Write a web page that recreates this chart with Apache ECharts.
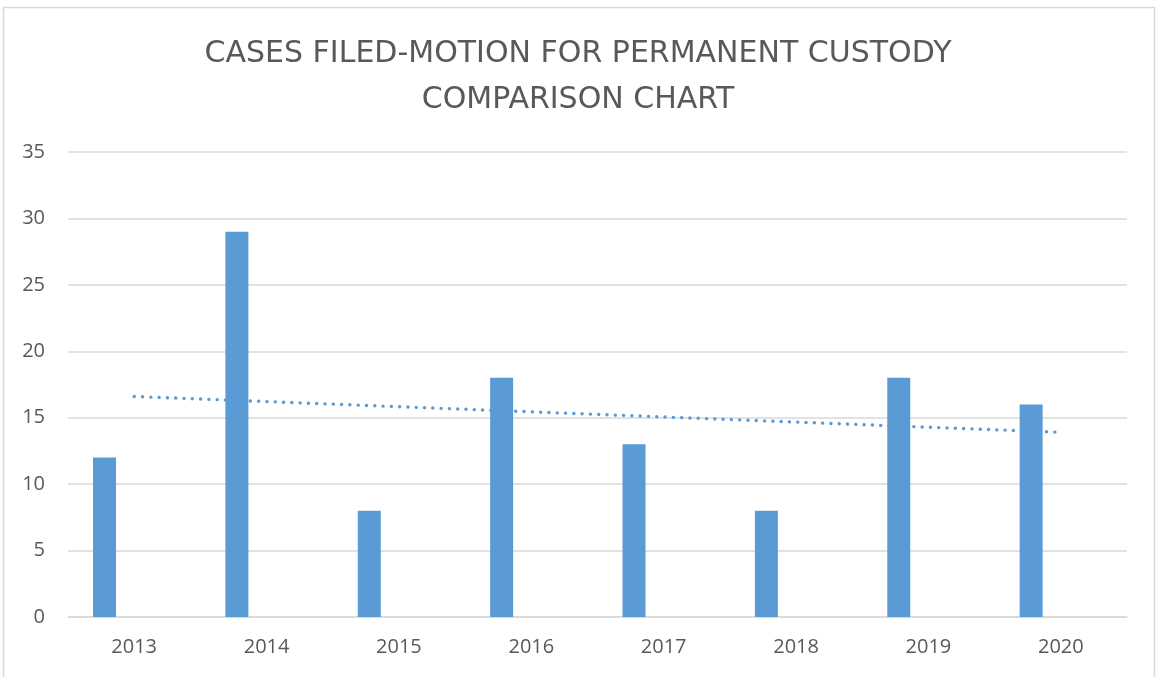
<!DOCTYPE html>
<html>
<head>
<meta charset="utf-8">
<script src="https://cdn.jsdelivr.net/npm/echarts@6/dist/echarts.min.js"></script>
<style>
html,body{margin:0;padding:0;background:#fff;}
#chart{width:1156px;height:677px;}
</style>
</head>
<body>
<div id="chart"></div>
<script>
const titleText = 'CASES FILED-MOTION FOR PERMANENT CUSTODY\nCOMPARISON CHART';
const categories = ['2013','2014','2015','2016','2017','2018','2019','2020'];
const casesFiled = [12, 29, 8, 18, 13, 8, 18, 16];
const emptySeries = [null, null, null, null, null, null, null, null];
// linear trendline endpoints (2013 and 2020)
const trendValues = [16.6, null, null, null, null, null, null, 13.9];
const yTicks = { min: 0, max: 35, interval: 5 };

const chart = echarts.init(document.getElementById('chart'), null, {renderer: 'canvas'});
chart.setOption({
  animation: false,
  backgroundColor: '#ffffff',
  graphic: [{
    type: 'rect', silent: true, z: -10,
    shape: {x: 3.5, y: 7.5, width: 1151, height: 690},
    style: {fill: 'none', stroke: '#d9d9d9', lineWidth: 1.5}
  }],
  title: {
    text: titleText,
    left: 'center',
    top: 26,
    textStyle: {
      fontFamily: 'DejaVu Sans', fontWeight: 'normal', fontSize: 30,
      color: '#595959', lineHeight: 46
    }
  },
  grid: {left: 68, right: 29, top: 152, bottom: 60, containLabel: false},
  xAxis: {
    type: 'category',
    data: categories,
    axisLine: {lineStyle: {color: '#d9d9d9', width: 1.5}},
    axisTick: {show: false},
    axisLabel: {color: '#595959', fontFamily: 'Open Sans', fontSize: 20, margin: 20}
  },
  yAxis: {
    type: 'value',
    min: yTicks.min, max: yTicks.max, interval: yTicks.interval,
    axisLine: {show: false},
    axisTick: {show: false},
    splitLine: {lineStyle: {color: '#d9d9d9', width: 1.5}},
    axisLabel: {color: '#595959', fontFamily: 'Open Sans', fontSize: 20, margin: 23}
  },
  series: [
    {
      name: 'Cases Filed', type: 'bar', data: casesFiled,
      barWidth: 23, barGap: '158%',
      itemStyle: {color: '#5b9bd5'}
    },
    {
      name: 'Empty', type: 'bar', data: emptySeries,
      barWidth: 23,
      itemStyle: {color: '#ed7d31'}
    },
    {
      name: 'Linear (Cases Filed)', type: 'line', data: trendValues,
      connectNulls: true, symbol: 'none', z: 5,
      lineStyle: {color: '#5b9bd5', width: 3.4, type: [0.1, 8.2], cap: 'round'}
    }
  ]
});
</script>
</body>
</html>
